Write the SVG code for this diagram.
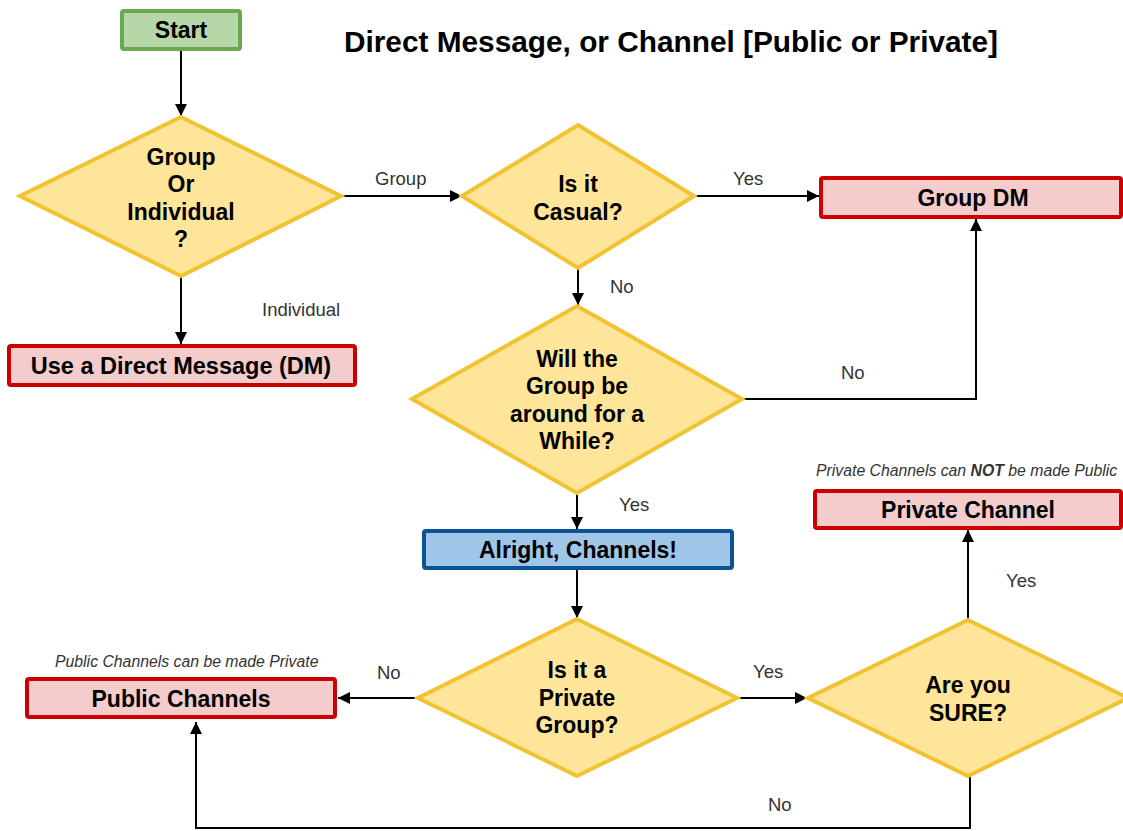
<svg xmlns="http://www.w3.org/2000/svg" width="1123" height="831" viewBox="0 0 1123 831">
<style>
.n{font-family:"Liberation Sans",Arial,sans-serif;font-weight:bold;font-size:23px;fill:#000;text-anchor:middle}
.l{font-family:"Liberation Sans",Arial,sans-serif;font-size:18.5px;fill:#333}
.i{font-family:"Liberation Sans",Arial,sans-serif;font-size:15.8px;font-style:italic;fill:#333}
.dia{fill:#ffe599;stroke:#f1c232;stroke-width:4;stroke-linejoin:miter}
.red{fill:#f4cccc;stroke:#cc0000;stroke-width:4}
.blue{fill:#9fc5e8;stroke:#0b5394;stroke-width:4}
.green{fill:#b6d7a8;stroke:#6aa84f;stroke-width:4}
.c{fill:none;stroke:#000;stroke-width:2;marker-end:url(#ah)}
</style>
<defs>
<marker id="ah" markerUnits="userSpaceOnUse" markerWidth="12" markerHeight="12" refX="12" refY="6" orient="auto">
<path d="M0,0 L12,6 L0,12 z" fill="#000"/>
</marker>
</defs>
<rect width="1123" height="831" fill="#fff"/>
<text x="671" y="52" class="n" style="font-size:29.8px">Direct Message, or Channel [Public or Private]</text>

<g id="connectors">
<path class="c" d="M181,51 L181,116"/>
<path class="c" d="M341,196 L462,196"/>
<path class="c" d="M694,196 L819,196"/>
<path class="c" d="M578,268 L578,305"/>
<path class="c" d="M742,399 L976,399 L976,219"/>
<path class="c" d="M181,277 L181,344"/>
<path class="c" d="M577,493 L577,529"/>
<path class="c" d="M577,570 L577,618"/>
<path class="c" d="M418,698 L338,698"/>
<path class="c" d="M737,698 L807,698"/>
<path class="c" d="M968,620 L968,530"/>
<path class="c" d="M970,777 L970,828 L196,828 L196,722"/>
<text class="l" x="375" y="185">Group</text>
<text class="l" x="733" y="185">Yes</text>
<text class="l" x="610" y="293">No</text>
<text class="l" x="262" y="316">Individual</text>
<text class="l" x="841" y="379">No</text>
<text class="l" x="619" y="511">Yes</text>
<text class="l" x="1006" y="587">Yes</text>
<text class="l" x="377" y="679">No</text>
<text class="l" x="753" y="678">Yes</text>
<text class="l" x="768" y="811">No</text>
</g>

<g id="start">
<rect class="green" x="122" y="11" width="118" height="38" rx="2"/>
<text class="n" x="181" y="38">Start</text>
</g>

<g id="group-or-individual">
<polygon class="dia" points="181,117 341,196 181,276 20,196"/>
<text class="n" x="181" y="165">Group</text>
<text class="n" x="181" y="192">Or</text>
<text class="n" x="181" y="220">Individual</text>
<text class="n" x="181" y="247">?</text>
</g>

<g id="is-it-casual">
<polygon class="dia" points="578,125 694,196 578,268 462,196"/>
<text class="n" x="578" y="192">Is it</text>
<text class="n" x="578" y="220">Casual?</text>
</g>

<g id="group-dm">
<rect class="red" x="821" y="178" width="300" height="39" rx="2"/>
<text class="n" x="973" y="206">Group DM</text>
</g>

<g id="use-dm">
<rect class="red" x="9" y="346" width="346" height="39" rx="2"/>
<text class="n" x="181" y="374" style="font-size:23.5px">Use a Direct Message (DM)</text>
</g>

<g id="will-the-group">
<polygon class="dia" points="577,306 742,399 577,493 412,399"/>
<text class="n" x="577" y="367">Will the</text>
<text class="n" x="577" y="394">Group be</text>
<text class="n" x="577" y="422">around for a</text>
<text class="n" x="577" y="449">While?</text>
</g>

<g id="alright-channels">
<rect class="blue" x="424" y="531" width="308" height="37" rx="2"/>
<text class="n" x="578" y="558">Alright, Channels!</text>
</g>

<g id="private-group">
<polygon class="dia" points="577,619 737,698 577,776 418,698"/>
<text class="n" x="577" y="678">Is it a</text>
<text class="n" x="577" y="706">Private</text>
<text class="n" x="577" y="733">Group?</text>
</g>

<g id="are-you-sure">
<polygon class="dia" points="968,620 1128,698 968,776 808,698"/>
<text class="n" x="968" y="693">Are you</text>
<text class="n" x="968" y="721">SURE?</text>
</g>

<g id="private-channel">
<text class="i" x="816" y="476">Private Channels can <tspan font-weight="bold">NOT</tspan> be made Public</text>
<rect class="red" x="815" y="491" width="306" height="37" rx="2"/>
<text class="n" x="968" y="518">Private Channel</text>
</g>

<g id="public-channels">
<text class="i" x="55" y="667">Public Channels can be made Private</text>
<rect class="red" x="27" y="679" width="308" height="38" rx="2"/>
<text class="n" x="181" y="707">Public Channels</text>
</g>
</svg>
